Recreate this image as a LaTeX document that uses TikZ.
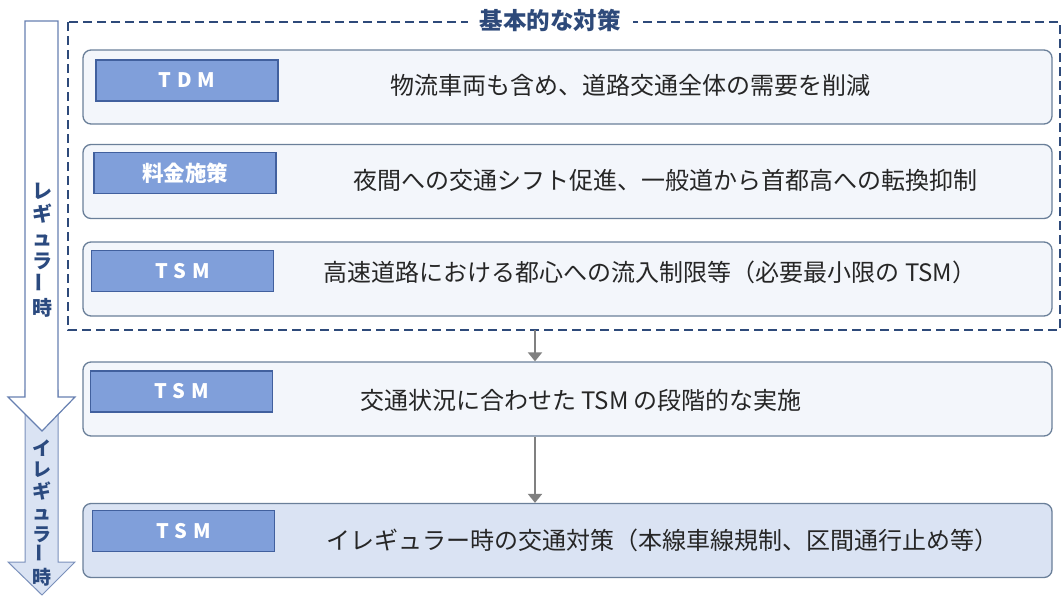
\documentclass[tikz,border=0pt]{standalone}
\usepackage{fontspec}
\usetikzlibrary{calc, arrows.meta}
\newfontfamily\jpfont{Noto Sans CJK JP}
\newfontfamily\tagfont[LetterSpace=30]{Noto Sans CJK JP}
\definecolor{framecol}{HTML}{2E4A7A}
\definecolor{boxline}{HTML}{6A7F99}
\definecolor{boxfill}{HTML}{F3F6FB}
\definecolor{irrfill}{HTML}{DAE3F3}
\definecolor{tagfill}{HTML}{809FDA}
\definecolor{tagline}{HTML}{41609E}
\definecolor{stepgrey}{HTML}{808080}
\definecolor{sidetext}{HTML}{2B4A7F}
\definecolor{bodytext}{HTML}{262626}

\begin{document}
\begin{tikzpicture}[x=1pt, y=-1pt,
    box/.style={draw=boxline, line width=1.3pt, fill=boxfill, rounded corners=8pt,
                minimum width=969pt, minimum height=74pt, inner sep=0pt},
    tag/.style={draw=tagline, line width=1.2pt, fill=tagfill, text=white,
                minimum width=182pt, minimum height=41pt, inner sep=0pt,
                font=\tagfont\bfseries\fontsize{20}{22}\selectfont},
    body/.style={text=bodytext, inner sep=0pt, font=\jpfont\fontsize{24}{27}\selectfont},
    side/.style={text=sidetext, inner sep=0pt, align=center,
                 font=\jpfont\bfseries\fontsize{20}{23.5}\selectfont},
    flow/.style={draw=stepgrey, line width=2pt, -{Triangle[width=14pt,length=9pt]}}
  ]
  \useasboundingbox (0,0) rectangle (1062,595);

  % the two phases on the left
  \draw[draw=tagline!70, fill=irrfill, line width=1pt]
    (25,390) -- (58,390) -- (58,562) -- (75,562) -- (42,595) -- (8,562) -- (25,562) -- cycle;
  \draw[draw=tagline!80, fill=white, line width=1.2pt]
    (25,21) -- (58,21) -- (58,397) -- (75,397) -- (42,431) -- (8,397) -- (25,397) -- cycle;
  \node[side] (regular) at (42,250)
    {レ\\ギ\\ュ\\ラ\\\rotatebox{90}{ー}\\時};
  \node[side, font=\jpfont\bfseries\fontsize{19}{21.5}\selectfont] (irregular) at (42,513)
    {イ\\レ\\ギ\\ュ\\ラ\\\rotatebox{90}{ー}\\時};

  % basic measures
  \draw[framecol, line width=2.4pt, dash pattern=on 9pt off 5pt] (68,22) rectangle (1060,330);
  \coordinate (basebot) at (535,330);
  \node[fill=white, text=framecol, inner xsep=12pt, inner ysep=2pt,
        font=\jpfont\bfseries\fontsize{23.5}{26}\selectfont] (basic) at (550,20) {基本的な対策};

  \node[box] (b1) at (567.5,87) {};
  \node[tag] (t1) at (187,80.5) {TDM};
  \node[body] (m1) at (630,85) {物流車両も含め、道路交通全体の需要を削減};

  \node[box] (b2) at (567.5,181.5) {};
  \node[tag, font=\jpfont\bfseries\fontsize{21.5}{24}\selectfont] (t2) at (185,173) {料金施策};
  \node[body] (m2) at (665,180) {夜間への交通シフト促進、一般道から首都高への転換抑制};

  \node[box] (b3) at (567.5,279) {};
  \node[tag] (t3) at (182.5,271) {TSM};
  \node[body] (m3) at (650,272) {高速道路における都心への流入制限等（必要最小限の TSM）};

  % staged and irregular measures
  \node[box] (b4) at (567.5,399) {};
  \node[tag] (t4) at (181.5,391.5) {TSM};
  \node[body] (m4) at (581,400) {交通状況に合わせた TSM の段階的な実施};

  \node[box, fill=irrfill] (b5) at (567.5,540.5) {};
  \node[tag] (t5) at (183.5,531) {TSM};
  \node[body] (m5) at (662,540) {イレギュラー時の交通対策（本線車線規制、区間通行止め等）};

  \draw[flow] (basebot) -- (b4.north -| basebot);
  \draw[flow] (b4.south -| basebot) -- (b5.north -| basebot);
\end{tikzpicture}
\end{document}
